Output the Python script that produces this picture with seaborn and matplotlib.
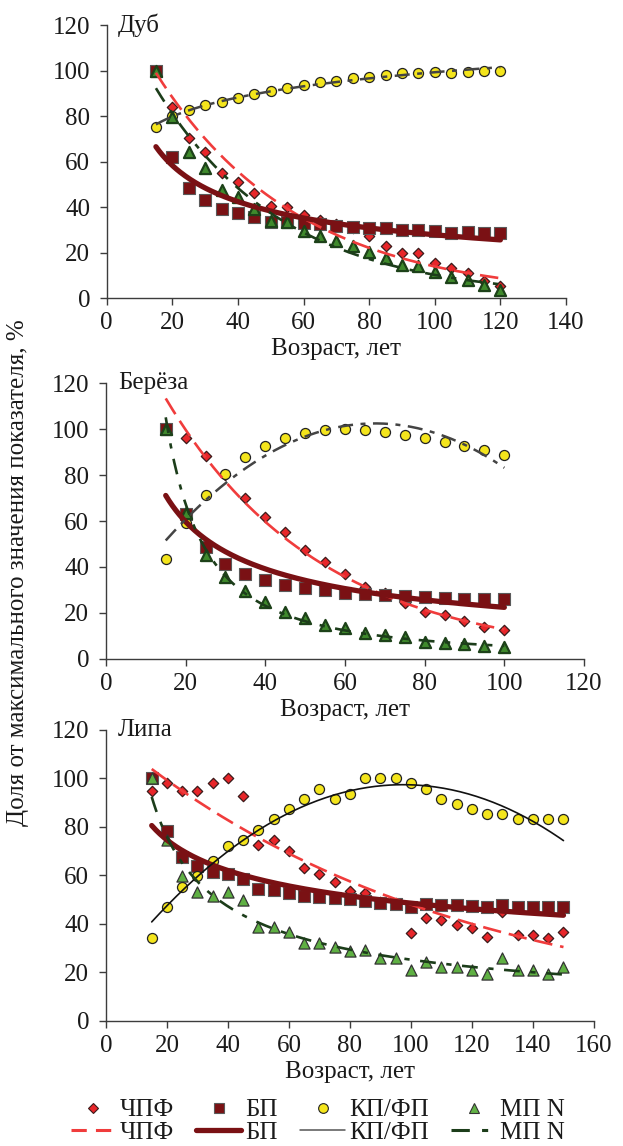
import numpy as np
import matplotlib
matplotlib.use("Agg")
import matplotlib.pyplot as plt
import seaborn as sns
from matplotlib.lines import Line2D

# ---- ages (years) ----
age_oak = np.arange(15, 121, 5)
age_birch = np.arange(15, 101, 5)
age_linden = np.arange(15, 151, 5)

# ---- Дуб: share of the maximum value, % ----
oak_chpf = [100, 84.2, 70.3, 64.4, 54.9, 51.2, 46.4, 40.6, 40.3, 36.6, 34.4,
            32.5, 30.7, 27.2, 23.1, 20.1, 19.7, 15.4, 13.2, 11.1, 7.6, 5.2]
oak_bp = [100, 62.0, 48.3, 43.4, 39.1, 37.3, 35.6, 33.7, 33.7, 33.2, 32.6,
          31.8, 31.2, 30.7, 30.7, 30.0, 30.0, 29.7, 28.8, 29.3, 28.8, 28.6]
oak_kp = [75.1, 80.1, 82.7, 84.9, 86.4, 88.1, 89.8, 91.2, 92.2, 93.6, 94.9,
          95.6, 96.6, 97.4, 98.2, 98.8, 99.1, 99.3, 99.1, 99.6, 100, 100]
oak_mp = [100, 79.8, 64.4, 57.1, 47.6, 44.7, 39.1, 34.1, 33.7, 29.7, 27.4,
          25.3, 23.0, 20.5, 17.6, 14.6, 14.2, 11.7, 9.5, 8.1, 5.9, 3.7]

# ---- Берёза ----
birch_chpf = [100, 96.1, 88.4, 80.0, 70.2, 61.9, 55.1, 47.4, 42.0, 36.9,
              31.1, 28.5, 24.4, 20.2, 19.0, 16.4, 13.9, 12.5]
birch_bp = [100, 63.0, 48.8, 41.3, 36.9, 34.3, 32.1, 30.7, 29.9, 28.8,
            28.2, 27.8, 27.3, 26.7, 26.3, 26.0, 25.9, 25.9]
birch_kp = [43.3, 59.3, 71.4, 80.5, 87.8, 92.9, 96.4, 98.5, 99.7, 100,
            99.7, 98.7, 97.5, 96.1, 94.6, 92.9, 91.0, 88.8]
birch_mp = [100, 63.4, 45.2, 35.8, 29.7, 24.9, 20.2, 17.6, 14.7, 13.2,
            11.0, 10.3, 9.3, 7.4, 7.0, 6.3, 5.5, 5.2]

# ---- Липа ----
linden_chpf = [94.9, 98.2, 94.9, 94.9, 98.2, 100, 92.8, 72.5, 74.6, 70.2,
               62.9, 60.5, 57.2, 53.6, 52.5, 49.1, 48.4, 36.0, 42.5, 41.5,
               39.5, 38.4, 34.5, 45.0, 35.4, 35.4, 34.0, 36.5]
linden_bp = [100, 78.3, 67.7, 63.8, 61.5, 60.5, 58.3, 54.3, 53.9, 52.5,
             51.4, 50.9, 50.5, 50.1, 49.5, 48.7, 48.1, 47.0, 48.1, 47.7,
             47.7, 47.3, 46.8, 47.7, 46.8, 46.8, 46.8, 46.8]
linden_kp = [34.0, 46.8, 55.3, 59.7, 66.0, 72.2, 74.6, 78.7, 83.1, 87.2,
             91.5, 95.7, 91.5, 93.7, 100, 100, 100, 97.9, 95.6, 91.5,
             89.4, 87.2, 85.1, 85.1, 83.1, 83.1, 83.1, 83.1]
linden_mp = [100, 74.6, 59.7, 53.2, 51.4, 53.2, 49.8, 38.5, 38.5, 36.7,
             32.2, 32.2, 30.5, 28.9, 29.2, 25.7, 25.7, 20.9, 24.1, 22.3,
             22.3, 20.9, 19.3, 25.7, 20.9, 20.9, 19.3, 22.3]

series_names = ["ЧПФ", "БП", "КП/ФП", "МП N"]
panel_titles = ["Дуб", "Берёза", "Липа"]
x_limits = [140, 120, 160]
x_label = "Возраст, лет"
y_label = "Доля от максимального значения показателя, %"

# trend type of every series in each panel
trend_kinds = [
    ["exp", "power", "log", "exp"],
    ["exp", "power", "poly2", "power"],
    ["exp", "power", "poly2", "power"],
]


def trend(kind, x, y, xs):
    x = np.asarray(x, float)
    y = np.asarray(y, float)
    if kind == "exp":
        b, a = np.polyfit(x, np.log(y), 1)
        return np.exp(a + b * xs)
    if kind == "power":
        b, a = np.polyfit(np.log(x), np.log(y), 1)
        return np.exp(a) * xs ** b
    if kind == "log":
        b, a = np.polyfit(np.log(x), y, 1)
        return a + b * np.log(xs)
    return np.polyval(np.polyfit(x, y, 2), xs)


sns.set_theme(style="ticks")
plt.rcParams["font.family"] = ["Liberation Serif", "DejaVu Serif"]
plt.rcParams["font.size"] = 18
plt.rcParams["axes.linewidth"] = 1.0

FS = 18
RED = "#e8262a"
RED_LINE = "#f03c3c"
MAROON = "#7a1114"
YELLOW = "#f4e51c"
GRAY_LINE = "#444444"
GREEN_LINE = "#1c3d1a"
TEXT = "#1a1a1a"

fig = plt.figure(figsize=(6.23, 11.46), dpi=100)
rects = [
    [0.1713, 0.7397, 0.7372, 0.2383],
    [0.1701, 0.4252, 0.7673, 0.2402],
    [0.1701, 0.1093, 0.7833, 0.2538],
]

data = [
    (age_oak, [oak_chpf, oak_bp, oak_kp, oak_mp]),
    (age_birch, [birch_chpf, birch_bp, birch_kp, birch_mp]),
    (age_linden, [linden_chpf, linden_bp, linden_kp, linden_mp]),
]

tri_fill = ["#3f8a2c", "#3f8a2c", "#5fb043"]
tri_edge = ["#1d4219", "#1d4219", "#333333"]
tri_lw = [1.6, 1.6, 0.9]

for i, (age, vals) in enumerate(data):
    ax = fig.add_axes(rects[i])
    chpf, bp, kp, mp = vals

    sns.scatterplot(x=age, y=chpf, marker="D", s=28, color=RED,
                    edgecolor="#3a1a1a", linewidth=0.9, ax=ax, zorder=3)
    sns.scatterplot(x=age, y=bp, marker="s", s=64, color=MAROON,
                    edgecolor="#5a5a5a", linewidth=0.8, ax=ax, zorder=3)
    sns.scatterplot(x=age, y=kp, marker="o", s=52, color=YELLOW,
                    edgecolor="#222222", linewidth=0.9, ax=ax, zorder=3)
    sns.scatterplot(x=age, y=mp, marker="^", s=64, color=tri_fill[i],
                    edgecolor=tri_edge[i], linewidth=tri_lw[i], ax=ax, zorder=3)

    xs = np.linspace(age.min(), age.max(), 200)
    kinds = trend_kinds[i]

    sns.lineplot(x=xs, y=trend(kinds[0], age, chpf, xs), ax=ax,
                 color=RED_LINE, linewidth=1.9, zorder=4)
    ax.lines[-1].set_dashes((7, 3))
    sns.lineplot(x=xs, y=trend(kinds[1], age, bp, xs), ax=ax,
                 color=MAROON, linewidth=3.8, zorder=4)
    if i < 2:
        sns.lineplot(x=xs, y=trend(kinds[2], age, kp, xs), ax=ax,
                     color=GRAY_LINE, linewidth=1.8, zorder=4)
        ax.lines[-1].set_dashes((6, 3, 2, 3))
    else:
        sns.lineplot(x=xs, y=trend(kinds[2], age, kp, xs), ax=ax,
                     color="#111111", linewidth=1.2, zorder=4)
    sns.lineplot(x=xs, y=trend(kinds[3], age, mp, xs), ax=ax,
                 color=GREEN_LINE, linewidth=1.9, zorder=4)
    ax.lines[-1].set_dashes((6, 4, 2, 4))

    ax.set_xlim(0, x_limits[i])
    ax.set_ylim(0, 120)
    ax.set_xticks(np.arange(0, x_limits[i] + 1, 20))
    ax.set_yticks(np.arange(0, 121, 20))
    ax.set_xlabel(x_label, fontsize=FS, labelpad=3, color=TEXT)
    ax.set_ylabel("")
    sns.despine(ax=ax)
    for side in ("left", "bottom"):
        ax.spines[side].set_color("#3c3c3c")
    ax.tick_params(axis="both", direction="out", length=5, width=1,
                   color="#3c3c3c", labelsize=FS, labelcolor=TEXT)
    ax.tick_params(axis="y", pad=7)
    ax.tick_params(axis="x", pad=5)
    ax.text(0.025, 1.0, panel_titles[i], transform=ax.transAxes,
            ha="left", va="center", fontsize=FS, color=TEXT)

fig.text(0.029, 0.50, y_label, rotation=90, ha="center", va="center",
         fontsize=FS, color=TEXT)

handles = [
    Line2D([], [], ls="none", marker="D", markersize=5.5, mfc=RED, mec="#3a1a1a", mew=0.8),
    Line2D([], [], color=RED_LINE, lw=2.2, dashes=(5, 3)),
    Line2D([], [], ls="none", marker="s", markersize=7, mfc=MAROON, mec="#5a5a5a", mew=0.8),
    Line2D([], [], color=MAROON, lw=3.8),
    Line2D([], [], ls="none", marker="o", markersize=7, mfc=YELLOW, mec="#222222", mew=0.8),
    Line2D([], [], color="#555555", lw=1.1),
    Line2D([], [], ls="none", marker="^", markersize=7, mfc="#62b246", mec="#333333", mew=0.8),
    Line2D([], [], color=GREEN_LINE, lw=2.2, dashes=(6, 4, 2, 4)),
]
labels = [series_names[0], series_names[0], series_names[1], series_names[1],
          series_names[2], series_names[2], series_names[3], series_names[3]]
fig.legend(handles, labels, loc="center", bbox_to_anchor=(0.51, 0.0214),
           ncol=4, frameon=False, fontsize=FS, handlelength=1.8,
           handletextpad=0.15, columnspacing=0.9, labelspacing=0.0,
           borderpad=0.1, labelcolor=TEXT)

fig.savefig("out.png", dpi=100)
